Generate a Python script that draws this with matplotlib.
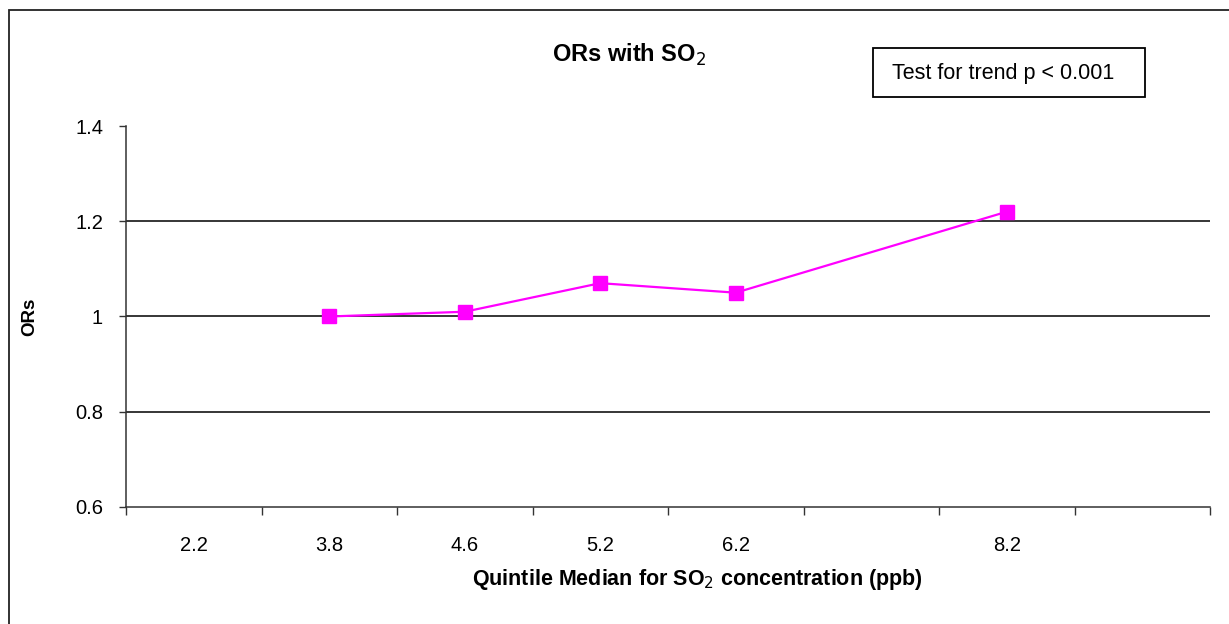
import numpy as np
import matplotlib
matplotlib.use("Agg")
import matplotlib.pyplot as plt
from matplotlib.patches import Rectangle

plt.rcParams['font.family'] = ['Liberation Sans', 'DejaVu Sans']

# quintile medians (ppb) shown on the x axis, two slots are left blank
categories = ['2.2', '3.8', '4.6', '5.2', '6.2', '', '8.2', '']
# odds ratios, nan where no point is drawn
ors = [np.nan, 1.0, 1.01, 1.07, 1.05, np.nan, 1.22, np.nan]
y_ticks = [0.6, 0.8, 1.0, 1.2, 1.4]
y_labels = ['0.6', '0.8', '1', '1.2', '1.4']

fig = plt.figure(figsize=(12.29, 6.24), dpi=100)
ax = fig.add_axes([126/1229, 1-507/624, (1210-126)/1229, (507-126)/624])

x = np.arange(len(categories))
vals = np.array(ors)
ok = ~np.isnan(vals)
ax.plot(x[ok], vals[ok], color='#FF00FF', lw=1.6, marker='s', markersize=10.5, zorder=3)

ax.set_xlim(-0.5, len(categories)-0.5)
ax.set_ylim(0.6, 1.4)
ax.set_yticks(y_ticks)
ax.set_yticklabels(y_labels, fontsize=14.5)
for yv in [0.8, 1.0, 1.2]:
    ax.axhline(yv, color='black', lw=1.1, zorder=1)

# ticks at the category edges, labels in the middle
ax.set_xticks(np.arange(-0.5, len(categories), 1))
ax.set_xticklabels([])
ax.set_xticks(x, minor=True)
ax.set_xticklabels(categories, minor=True, fontsize=14.5)
ax.tick_params(axis='x', which='major', direction='out', length=5.5, width=1, color='#333333')
ax.tick_params(axis='x', which='minor', length=0, pad=21)
ax.tick_params(axis='y', direction='out', length=5, width=1, color='#333333', pad=11.5)

for s in ['top', 'right']:
    ax.spines[s].set_visible(False)
for s in ['left', 'bottom']:
    ax.spines[s].set_color('#333333')
    ax.spines[s].set_linewidth(1.1)

fig.text(30/1229, 1-317/624, 'ORs', rotation=90, fontsize=13.5, fontweight='bold',
         ha='center', va='center')
fig.text(697/1229, 1-580/624, 'Quintile Median for SO$_2$ concentration (ppb)',
         fontsize=15.5, fontweight='bold', ha='center', va='center')
fig.text(629/1229, 1-55/624, 'ORs with SO$_2$', fontsize=17, fontweight='bold',
         ha='center', va='center')

fig.patches.append(Rectangle((873/1229, 1-97/624), 272/1229, 49/624, transform=fig.transFigure,
                             fill=False, edgecolor='black', lw=1.3))
fig.text(1003/1229, 1-73/624, 'Test for trend p < 0.001', fontsize=15.5, ha='center', va='center')

# outer chart border (runs past the right and bottom edges)
fig.patches.append(Rectangle((9/1229, -0.1), 1.2, 1.1 - 10/624, transform=fig.transFigure,
                             fill=False, edgecolor='#222222', lw=1.3))

fig.savefig('out.png', dpi=100)
